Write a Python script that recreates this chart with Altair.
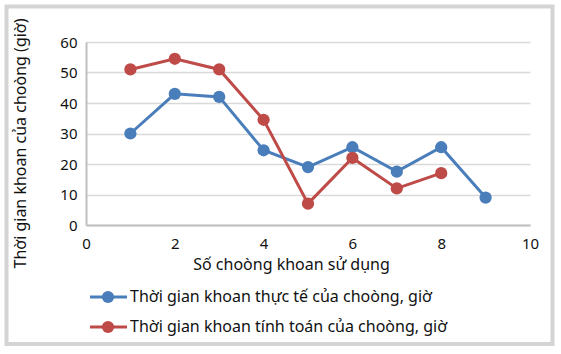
import altair as alt
import pandas as pd

x_actual = [1, 2, 3, 4, 5, 6, 7, 8, 9]
y_actual = [30, 43, 42, 24.5, 19, 25.5, 17.5, 25.5, 9]
x_calc = [1, 2, 3, 4, 5, 6, 7, 8]
y_calc = [51, 54.5, 51, 34.5, 7, 22, 12, 17]
s_actual = "Thời gian khoan thực tế của choòng, giờ"
s_calc = "Thời gian khoan tính toán của choòng, giờ"
series = [s_actual, s_calc]
colors = ["#4A7EBB", "#BE4B48"]

df = pd.DataFrame({
    "x": x_actual + x_calc,
    "y": y_actual + y_calc,
    "s": [s_actual] * len(x_actual) + [s_calc] * len(x_calc),
})
leg_df = pd.DataFrame({"s": series})

FONT = "Noto Sans"
cscale = alt.Scale(domain=series, range=colors)

xenc = alt.X("x:Q", scale=alt.Scale(domain=[0, 10], nice=False),
             axis=alt.Axis(values=[0, 2, 4, 6, 8, 10], grid=False, ticks=False,
                           labelFlush=False, labelOverlap=False,
                           domainColor="#BFBFBF", domainWidth=2, labelPadding=11,
                           title="Số choòng khoan sử dụng", titleX=205, titleY=31,
                           titleFontWeight="normal"))
yenc = alt.Y("y:Q", scale=alt.Scale(domain=[0, 60], nice=False),
             axis=alt.Axis(values=[0, 10, 20, 30, 40, 50, 60], grid=True, ticks=False,
                           labelOverlap=False, labelFlush=False,
                           gridColor="#D9D9D9", gridWidth=1.5,
                           domainColor="#BFBFBF", domainWidth=2, labelPadding=9,
                           title="Thời gian khoan của choòng (giờ)", titleX=-66, titleY=101,
                           titleBaseline="middle", titleAlign="center",
                           titleFontWeight="normal"))

base = alt.Chart(df)
line = base.mark_line(strokeWidth=3).encode(
    x=xenc, y=yenc, color=alt.Color("s:N", scale=cscale, legend=None),
)
pts = base.mark_point(filled=True, size=150, opacity=1).encode(
    x=xenc, y=yenc, color=alt.Color("s:N", scale=cscale, legend=None),
)

# legend built from the series list
ly = alt.Y("s:N", scale=alt.Scale(type="point", domain=series, range=[255, 285], padding=0),
           axis=None)
lbase = alt.Chart(leg_df)
leg_rule = lbase.mark_rule(strokeWidth=3).encode(
    x=alt.value(4), x2=alt.value(41), y=ly,
    color=alt.Color("s:N", scale=cscale, legend=None),
)
leg_dot = lbase.mark_point(filled=True, size=150, opacity=1).encode(
    x=alt.value(22), y=ly, color=alt.Color("s:N", scale=cscale, legend=None),
)
leg_text = lbase.mark_text(align="left", baseline="middle", font=FONT,
                           fontSize=16, color="#111").encode(
    x=alt.value(44), y=ly, text="s:N",
)
legend = alt.layer(leg_rule, leg_dot, leg_text)

frame = alt.Chart(pd.DataFrame({"a": [0]})).mark_rect(
    fill=None, stroke="#D4D4D4", strokeWidth=4
).encode(x=alt.value(-79.5), x2=alt.value(466.5), y=alt.value(-35.5), y2=alt.value(302))

chart = alt.layer(frame, alt.layer(line, pts), legend).resolve_scale(
    y="independent"
).properties(
    width=444, height=183,
    autosize=alt.AutoSizeParams(type="none"),
    padding={"left": 86, "top": 42, "right": 31, "bottom": 129},
    background="white",
).configure_view(stroke=None).configure_axis(
    labelFont=FONT, labelFontSize=15, labelColor="#111",
    titleFont=FONT, titleFontSize=16, titleColor="#111",
)

chart.save("out.html", embed_options={"renderer": "svg", "actions": False})
